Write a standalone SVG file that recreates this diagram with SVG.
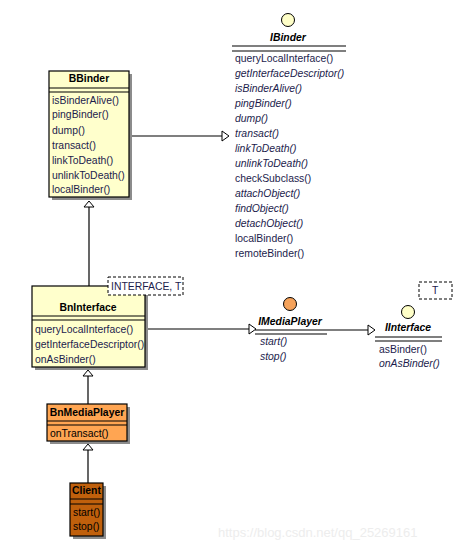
<svg xmlns="http://www.w3.org/2000/svg" width="463" height="551" viewBox="0 0 463 551">
<style>
text{font-family:"Liberation Sans",Arial,sans-serif;font-size:10.4px;fill:#1c1c4c}
.t{font-weight:bold;fill:#000;text-anchor:middle}
.ti{font-weight:bold;font-style:italic;fill:#000;text-anchor:middle}
.i{font-style:italic}
.box{stroke:#000;stroke-width:1.2}
.sh{fill:#8c8c8c}
.ln{stroke:#000;stroke-width:1.2;fill:none}
.ah{fill:#fff;stroke:#000;stroke-width:1}
.dash{fill:#fff;stroke:#000;stroke-width:1;stroke-dasharray:3,2}
.wm{font-size:13px;fill:#ededed}
</style>
<rect width="463" height="551" fill="#fff"/>
<g id="connectors">
  <line class="ln" x1="129" y1="136" x2="222" y2="136"/>
  <polygon class="ah" points="222,131 229,136 222,141"/>
  <line class="ln" x1="89" y1="207" x2="89" y2="286"/>
  <polygon class="ah" points="84,207 89,201 94,207"/>
  <line class="ln" x1="146" y1="329" x2="249" y2="329"/>
  <polygon class="ah" points="249,324 256,329 249,334"/>
  <line class="ln" x1="327" y1="330" x2="368" y2="330"/>
  <polygon class="ah" points="368,325 375,330 368,335"/>
  <line class="ln" x1="88" y1="376" x2="88" y2="404"/>
  <polygon class="ah" points="83,376 88,370 93,376"/>
  <line class="ln" x1="88" y1="450" x2="88" y2="483"/>
  <polygon class="ah" points="83,450 88,444 93,450"/>
</g>
<g id="BBinder">
  <rect class="sh" x="52" y="74" width="80" height="126"/>
  <rect class="box" x="49" y="71" width="80" height="126" fill="#ffffcc"/>
  <text class="t" x="89" y="82">BBinder</text>
  <line class="ln" x1="49" y1="88" x2="129" y2="88"/>
  <line class="ln" x1="49" y1="92" x2="129" y2="92"/>
  <text x="52" y="104">isBinderAlive()</text>
  <text x="52" y="118">pingBinder()</text>
  <text x="52" y="134">dump()</text>
  <text x="52" y="149">transact()</text>
  <text x="52" y="164">linkToDeath()</text>
  <text x="52" y="179">unlinkToDeath()</text>
  <text x="52" y="193">localBinder()</text>
</g>
<g id="IBinder">
  <circle cx="288" cy="20" r="6.5" fill="#ffffc8" stroke="#000" stroke-width="1"/>
  <text class="ti" x="288" y="41">IBinder</text>
  <line class="ln" x1="232" y1="46" x2="346" y2="46"/>
  <line class="ln" x1="232" y1="51" x2="346" y2="51"/>
  <text x="235" y="62">queryLocalInterface()</text>
  <text class="i" x="235" y="77">getInterfaceDescriptor()</text>
  <text class="i" x="235" y="92">isBinderAlive()</text>
  <text class="i" x="235" y="107">pingBinder()</text>
  <text class="i" x="235" y="122">dump()</text>
  <text class="i" x="235" y="137">transact()</text>
  <text class="i" x="235" y="152">linkToDeath()</text>
  <text class="i" x="235" y="167">unlinkToDeath()</text>
  <text x="235" y="182">checkSubclass()</text>
  <text class="i" x="235" y="197">attachObject()</text>
  <text class="i" x="235" y="212">findObject()</text>
  <text class="i" x="235" y="227">detachObject()</text>
  <text x="235" y="242">localBinder()</text>
  <text x="235" y="257">remoteBinder()</text>
</g>
<g id="BnInterface">
  <rect class="sh" x="35" y="289" width="113" height="81"/>
  <rect class="box" x="32" y="286" width="113" height="81" fill="#ffffcc"/>
  <text class="t" x="88" y="311">BnInterface</text>
  <line class="ln" x1="32" y1="316" x2="145" y2="316"/>
  <line class="ln" x1="32" y1="320" x2="145" y2="320"/>
  <text x="35" y="333">queryLocalInterface()</text>
  <text x="35" y="348">getInterfaceDescriptor()</text>
  <text x="35" y="363">onAsBinder()</text>
  <rect class="dash" x="108" y="277" width="75" height="18"/>
  <text x="111" y="290">INTERFACE, T</text>
</g>
<g id="IMediaPlayer">
  <circle cx="290" cy="304" r="6.5" fill="#f5a25a" stroke="#000" stroke-width="1"/>
  <text class="ti" x="290" y="325">IMediaPlayer</text>
  <line class="ln" x1="255" y1="330" x2="327" y2="330"/>
  <line class="ln" x1="255" y1="334" x2="327" y2="334"/>
  <text class="i" x="260" y="345">start()</text>
  <text class="i" x="260" y="360">stop()</text>
</g>
<g id="IInterface">
  <rect class="dash" x="419" y="282" width="33" height="17"/>
  <text x="432" y="294">T</text>
  <circle cx="408" cy="312" r="6.5" fill="#ffffc8" stroke="#000" stroke-width="1"/>
  <text class="ti" x="408" y="331">IInterface</text>
  <line class="ln" x1="375" y1="337" x2="442" y2="337"/>
  <line class="ln" x1="375" y1="341" x2="442" y2="341"/>
  <text x="379" y="353">asBinder()</text>
  <text class="i" x="379" y="367">onAsBinder()</text>
</g>
<g id="BnMediaPlayer">
  <rect class="sh" x="50" y="407" width="80" height="37"/>
  <rect class="box" x="47" y="404" width="80" height="37" fill="#ffa552"/>
  <text class="t" x="87" y="416">BnMediaPlayer</text>
  <line class="ln" x1="47" y1="421" x2="127" y2="421"/>
  <line class="ln" x1="47" y1="425" x2="127" y2="425"/>
  <text x="50" y="437" style="fill:#000">onTransact()</text>
</g>
<g id="Client">
  <rect class="sh" x="73" y="486" width="33" height="53"/>
  <rect class="box" x="70" y="483" width="33" height="53" fill="#c0600c"/>
  <text class="t" x="86.5" y="494">Client</text>
  <line class="ln" x1="70" y1="499" x2="103" y2="499"/>
  <line class="ln" x1="70" y1="504" x2="103" y2="504"/>
  <text x="73" y="516" style="fill:#000">start()</text>
  <text x="73" y="530" style="fill:#000">stop()</text>
</g>
<text class="wm" x="218" y="537">https://blog.csdn.net/qq_25269161</text>
</svg>
